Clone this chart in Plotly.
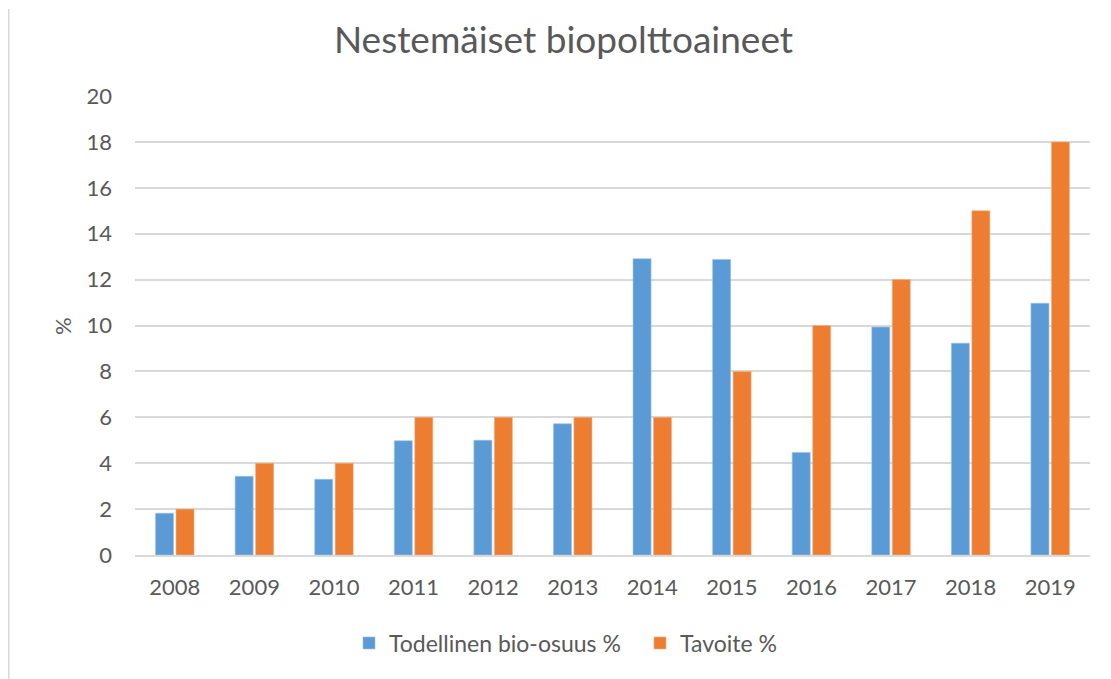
import plotly.graph_objects as go

years = ["2008", "2009", "2010", "2011", "2012", "2013", "2014", "2015", "2016", "2017", "2018", "2019"]
actual = [1.82, 3.43, 3.30, 4.98, 5.0, 5.72, 12.91, 12.88, 4.47, 9.93, 9.23, 10.97]
target = [2, 4, 4, 6, 6, 6, 6, 8, 10, 12, 15, 18]
y_ticks = list(range(0, 21, 2))

font_family = "Lato, 'Open Sans', sans-serif"
text_color = "#595959"

W, H = 1111, 679
OFF = 8  # page body margin
# target screen coordinates of plot area
sx0, sx1, sy0, sy1 = 135, 1090, 96, 555
L = sx0 - OFF
T = sy0 - OFF
R = W - (sx1 - OFF)
B = H - (sy1 - OFF)
pw = W - L - R
ph = H - T - B


def px(sx):
    return (sx - OFF - L) / pw


def py(sy):
    return (H - B - (sy - OFF)) / ph


fig = go.Figure()
fig.add_trace(go.Bar(x=years, y=actual, name="Todellinen bio-osuus %",
                     marker=dict(color="#5B9BD5", line=dict(color="#9DC3E6", width=0.6))))
fig.add_trace(go.Bar(x=years, y=target, name="Tavoite %",
                     marker=dict(color="#ED7D31", line=dict(color="#F4B183", width=0.6))))

fig.update_layout(
    width=W, height=H,
    margin=dict(l=L, r=R, t=T, b=B, autoexpand=False),
    paper_bgcolor="white", plot_bgcolor="white",
    barmode="group", bargap=0.485, bargroupgap=0.12,
    title=dict(text="Nestemäiset biopolttoaineet", x=0.5, xanchor="center",
               y=1 - (40 - OFF) / H, yanchor="middle",
               font=dict(family=font_family, size=37, color=text_color)),
    font=dict(family=font_family, size=21, color=text_color),
    xaxis=dict(showgrid=False, showline=True, linecolor="#D9D9D9", linewidth=1.5,
               ticks="", ticklabelstandoff=12, tickfont=dict(size=22, color=text_color)),
    yaxis=dict(range=[0, 20], tickvals=y_ticks, showgrid=True, gridcolor="#D9D9D9",
               gridwidth=1.5, zeroline=False, ticks="", ticklabelstandoff=22,
               tickfont=dict(size=22, color=text_color)),
    legend=dict(orientation="h", x=px(349), xanchor="left", yref="container",
                y=1 - (643 - OFF) / H, yanchor="middle",
                entrywidth=246, entrywidthmode="pixels",
                font=dict(size=23, color=text_color), traceorder="normal"),
    showlegend=True,
    annotations=[dict(text="%", textangle=-90, xref="paper", yref="paper",
                      x=px(62), y=py(326), xanchor="center", yanchor="middle",
                      showarrow=False, font=dict(size=22, color=text_color))],
)
fig.add_shape(type="line", xref="paper", yref="paper",
              x0=px(8.75), x1=px(8.75),
              y0=py(H + 5), y1=py(9),
              line=dict(color="#D9D9D9", width=1.5))
fig.write_html("out.html")
